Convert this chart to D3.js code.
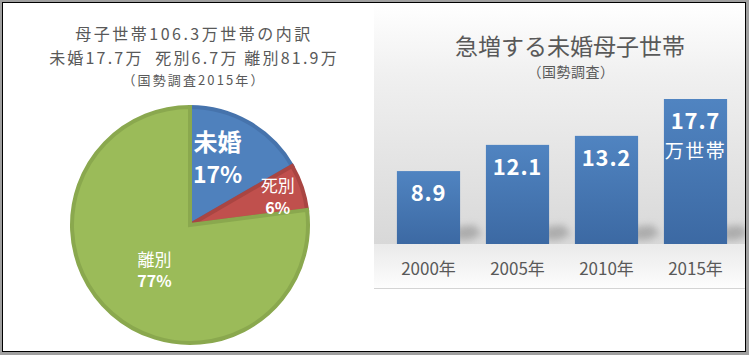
<!DOCTYPE html>
<html>
<head>
<meta charset="utf-8">
<script src="https://cdn.jsdelivr.net/npm/d3@7"></script>
<style>
  html, body { margin: 0; padding: 0; background: #fff; }
  svg { display: block; }
  text { font-family: "Noto Sans CJK JP", "Noto Sans", sans-serif; }
</style>
</head>
<body>
<script>
// ---------- data ----------
const pieCategories = ["未婚", "死別", "離別"];
const pieValues = [17.7, 6.7, 81.9];
const leftTitleLines = ["母子世帯106.3万世帯の内訳", "未婚17.7万  死別6.7万 離別81.9万", "（国勢調査2015年）"];

const years = ["2000年", "2005年", "2010年", "2015年"];
const counts = [8.9, 12.1, 13.2, 17.7];
const rightTitle = "急増する未婚母子世帯";
const rightSubtitle = "（国勢調査）";
const lastBarUnit = "万世帯";

// ---------- setup ----------
const W = 749, H = 355;
const svg = d3.select("body").append("svg").attr("width", W).attr("height", H);
const defs = svg.append("defs");

// frame
svg.append("rect").attr("x", 0).attr("y", 0).attr("width", W).attr("height", H).attr("fill", "#a0a0a0");
svg.append("rect").attr("x", 2.5).attr("y", 2.5).attr("width", 743).attr("height", 349)
  .attr("fill", "#fff").attr("stroke", "#000").attr("stroke-width", 1);

// ---------- LEFT: pie ----------
const sliceFill = ["#4F81BD", "#C0504D", "#9BBB59"];
const sliceStroke = ["#4673AC", "#A94542", "#8AA84E"];
const cx = 190, cy = 225, R = 118;

const tg = svg.append("g").attr("fill", "#595959").attr("text-anchor", "middle");
tg.append("text").attr("x", 194).attr("y", 40).attr("font-size", 16).attr("letter-spacing", 2.5).text(leftTitleLines[0]);
tg.append("text").attr("x", 194).attr("y", 63.5).attr("font-size", 16).attr("letter-spacing", 2.2).attr("xml:space", "preserve").text(leftTitleLines[1]);
tg.append("text").attr("x", 194).attr("y", 84.5).attr("font-size", 13).attr("letter-spacing", 2.1).text(leftTitleLines[2]);

const pie = d3.pie().sort(null).value(d => d)(pieValues);
const arc = d3.arc().innerRadius(0).outerRadius(R);
const pg = svg.append("g").attr("transform", `translate(${cx},${cy})`);
pg.selectAll("path").data(pie).join("path")
  .attr("d", arc)
  .attr("fill", (d, i) => sliceFill[i])
  .attr("stroke", (d, i) => sliceStroke[i])
  .attr("stroke-width", 4)
  .attr("stroke-linejoin", "miter");

const total = d3.sum(pieValues);
const labelStyle = [
  { r: 72, da: -0.13, nameSize: 24, pctSize: 23, nameW: "bold", gap: 32 },
  { r: 92, da: 0.02, nameSize: 17, pctSize: 16, nameW: "normal", gap: 22 },
  { r: 58, da: -0.06, nameSize: 17, pctSize: 16, nameW: "normal", gap: 22 }
];
pie.forEach((d, i) => {
  const s = labelStyle[i];
  const a = (d.startAngle + d.endAngle) / 2 + s.da;
  const lx = Math.sin(a) * s.r, ly = -Math.cos(a) * s.r;
  const g = pg.append("g").attr("transform", `translate(${lx},${ly})`).attr("fill", "#fff").attr("text-anchor", "middle");
  g.append("text").attr("y", -s.gap / 2 + s.nameSize * 0.35).attr("font-size", s.nameSize).attr("font-weight", s.nameW).text(pieCategories[i]);
  g.append("text").attr("y", s.gap / 2 + s.pctSize * 0.35).attr("font-size", s.pctSize).attr("font-weight", "bold")
    .attr("font-family", "'Open Sans', sans-serif")
    .text(Math.round(d.value / total * 100) + "%");
});

// ---------- RIGHT: bar chart ----------
const px0 = 374, px1 = 745, py0 = 3, floorY = 244, py1 = 288;
const wallGrad = defs.append("linearGradient").attr("id", "wall").attr("x1", 0).attr("y1", 0).attr("x2", 0).attr("y2", 1);
wallGrad.append("stop").attr("offset", "0%").attr("stop-color", "#ffffff");
wallGrad.append("stop").attr("offset", "30%").attr("stop-color", "#f0f0f0");
wallGrad.append("stop").attr("offset", "100%").attr("stop-color", "#d8d8d8");
const floorGrad = defs.append("linearGradient").attr("id", "floor").attr("x1", 0).attr("y1", 0).attr("x2", 0).attr("y2", 1);
floorGrad.append("stop").attr("offset", "0%").attr("stop-color", "#eaeaea");
floorGrad.append("stop").attr("offset", "100%").attr("stop-color", "#fdfdfd");
svg.append("rect").attr("x", px0).attr("y", py0).attr("width", px1 - px0).attr("height", floorY - py0).attr("fill", "url(#wall)");
svg.append("rect").attr("x", px0).attr("y", floorY).attr("width", px1 - px0).attr("height", py1 - floorY).attr("fill", "url(#floor)");
svg.append("line").attr("x1", px0).attr("x2", px1).attr("y1", py1 + 0.5).attr("y2", py1 + 0.5).attr("stroke", "#d4d4d4");

svg.append("text").attr("x", 570).attr("y", 55).attr("text-anchor", "middle").attr("font-size", 23).attr("fill", "#595959").text(rightTitle);
svg.append("text").attr("x", 571).attr("y", 77).attr("text-anchor", "middle").attr("font-size", 14).attr("letter-spacing", 0.5).attr("fill", "#595959").text(rightSubtitle);

const x = d3.scaleBand().domain(years).range([384, 740]).paddingInner(0.29).paddingOuter(0.145);
const y = d3.scaleLinear().domain([0, 17.7]).range([floorY, 99]);

const barGrad = defs.append("linearGradient").attr("id", "bar").attr("x1", 0).attr("y1", 0).attr("x2", 0).attr("y2", 1);
barGrad.append("stop").attr("offset", "0%").attr("stop-color", "#5084C1");
barGrad.append("stop").attr("offset", "100%").attr("stop-color", "#3C69A3");

const clip = defs.append("clipPath").attr("id", "wallClip");
clip.append("rect").attr("x", px0).attr("y", py0).attr("width", px1 - px0).attr("height", floorY - py0);

const blur = defs.append("filter").attr("id", "shadowBlur").attr("x", "-50%").attr("y", "-100%").attr("width", "200%").attr("height", "300%");
blur.append("feGaussianBlur").attr("stdDeviation", 3.5);

// soft shadows cast behind each bar
svg.append("g").attr("clip-path", "url(#wallClip)").selectAll("path").data(counts).join("path")
  .attr("d", (d, i) => {
    const xr = x(years[i]) + x.bandwidth();
    return `M${xr - 4},${floorY - 17} L${xr + 14},${floorY - 19} L${xr + 22},${floorY - 10} L${xr + 10},${floorY - 4} L${xr - 4},${floorY - 4} Z`;
  })
  .attr("fill", "#9a9a9a").attr("opacity", 0.7).attr("filter", "url(#shadowBlur)");

svg.append("g").selectAll("rect").data(counts).join("rect")
  .attr("x", (d, i) => x(years[i]))
  .attr("y", d => y(d))
  .attr("width", x.bandwidth())
  .attr("height", d => floorY - y(d))
  .attr("fill", "url(#bar)");

svg.append("g").selectAll("text").data(counts).join("text")
  .attr("x", (d, i) => x(years[i]) + x.bandwidth() / 2)
  .attr("y", d => y(d) + 30)
  .attr("text-anchor", "middle").attr("fill", "#fff")
  .attr("font-family", "'Open Sans', sans-serif").attr("font-weight", "bold").attr("font-size", 22).attr("letter-spacing", 0.8)
  .text(d => d.toFixed(1));

svg.append("text")
  .attr("x", x(years[3]) + x.bandwidth() / 2)
  .attr("y", y(counts[3]) + 59)
  .attr("text-anchor", "middle").attr("fill", "#fff").attr("font-size", 19).attr("letter-spacing", 1.5)
  .text(lastBarUnit);

const xAxis = svg.append("g").attr("transform", `translate(0,${floorY})`)
  .call(d3.axisBottom(x).tickSize(0));
xAxis.select(".domain").remove();
xAxis.selectAll("text").attr("y", 31).attr("dy", 0)
  .attr("font-size", 17).attr("fill", "#595959")
  .attr("font-family", "'Noto Sans CJK JP', sans-serif");
</script>
</body>
</html>
